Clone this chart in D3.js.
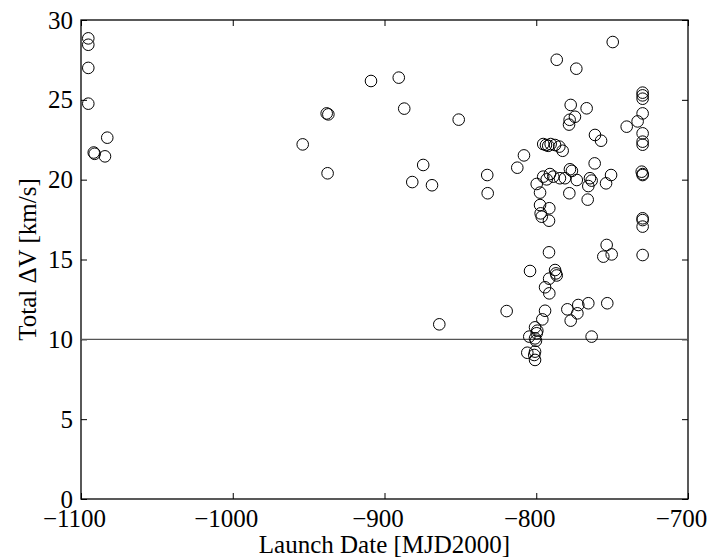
<!DOCTYPE html>
<html lang="en">
<head>
  <meta charset="utf-8">
  <title>Total dV vs launch date</title>
  <style>
    body { margin: 0; background: #fff; }
    #chart text { font-family: "Liberation Serif", "Times New Roman", serif; fill: #000; }
    .axis path { display: none; }
    .axis line { stroke: #000; stroke-width: 1; }
    .pt { fill: none; stroke: #000; stroke-width: 1; }
  </style>
</head>
<body>
  <div id="chart"></div>
  <script src="https://d3js.org/d3.v7.min.js"></script>
  <script>
    // launch dates [MJD2000] and matching total delta-v [km/s]
    var launchDate = [
      -1095.2, -1095.2, -1095.2, -1095.2, -1091.6, -1091.0, -1082.7, -1084.2,
      -953.9, -938.1, -937.0, -937.5, -908.9, -890.6, -887.0, -851.1, -874.5, -881.7, -868.7, -863.9,
      -832.3, -832.0, -819.5, -812.5, -808.1, -804.1,
      -799.7, -797.5, -797.5, -791.4, -797.1, -796.4, -791.6, -791.6, -787.6, -787.0, -786.5, -791.5,
      -794.2, -791.4, -794.2, -796.0, -800.8, -799.3, -799.7, -804.6, -800.8, -800.2, -805.9, -800.8, -801.3, -800.8,
      -795.4, -791.0, -793.1, -788.8, -784.4, -781.1, -777.8, -776.5, -773.3, -764.6, -763.5, -750.7,
      -778.2, -765.7, -754.0, -766.1, -761.5,
      -795.4, -793.6, -792.1, -790.5, -787.6, -784.8, -782.6,
      -749.6, -786.5, -773.6, -777.3, -766.8, -774.5, -778.0, -778.4, -761.3, -757.3, -740.4, -733.2,
      -729.9, -729.9, -729.9, -729.9, -729.9, -729.9, -729.9, -730.5, -729.9, -729.9, -729.9, -729.9, -729.9, -729.9,
      -753.6, -755.8, -750.3, -779.5, -772.3, -765.7, -753.2, -772.9, -777.3, -763.5
    ];
    var totalDV = [
      28.85, 28.45, 27.0, 24.76, 21.7, 21.62, 22.63, 21.46,
      22.21, 24.15, 24.09, 20.4, 26.18, 26.39, 24.45, 23.76, 20.92, 19.85, 19.65, 10.94,
      20.29, 19.15, 11.77, 20.75, 21.52, 14.28,
      19.73, 19.19, 18.41, 18.21, 17.89, 17.68, 17.43, 15.45, 14.34, 14.13, 14.0, 13.8,
      13.26, 12.88, 11.79, 11.25, 10.75, 10.54, 10.38, 10.17, 10.06, 9.91, 9.16, 9.23, 9.02, 8.71,
      20.19, 20.35, 20.02, 20.19, 20.09, 20.09, 20.65, 20.55, 19.98, 20.09, 19.94, 20.29,
      19.15, 19.6, 19.77, 18.75, 21.02,
      22.23, 22.17, 22.12, 22.23, 22.17, 22.07, 21.81,
      28.62, 27.51, 26.95, 24.68, 24.47, 23.94, 23.75, 23.45, 22.8, 22.44, 23.32, 23.65,
      25.45, 25.28, 25.07, 24.15, 22.9, 22.38, 22.19, 20.5, 20.35, 20.29, 17.58, 17.47, 17.06, 15.28,
      15.91, 15.18, 15.32, 11.88, 12.15, 12.26, 12.26, 11.63, 11.17, 10.17
    ];
    var xTicks = [-1100, -1000, -900, -800, -700];
    var yTicks = [0, 5, 10, 15, 20, 25, 30];
    var dvLimit = 10;

    var margin = { top: 20, right: 23, bottom: 60, left: 81 },
      width = 711 - margin.left - margin.right,
      height = 559 - margin.top - margin.bottom;

    var svg = d3.select("#chart")
      .append("svg")
      .attr("width", 711)
      .attr("height", 559)
      .append("g")
      .attr("transform", "translate(" + margin.left + "," + margin.top + ")");

    var x = d3.scaleLinear().domain([-1100, -700]).range([0, width]);
    var y = d3.scaleLinear().domain([0, 30]).range([height, 0]);
    var fmt = function (d) { return d < 0 ? "\u2212" + Math.abs(d) : String(d); };

    // labels sit a little left of their ticks, as in the original
    svg.append("g")
      .attr("class", "axis")
      .attr("transform", "translate(0," + height + ")")
      .call(d3.axisBottom(x).tickValues(xTicks).tickFormat(fmt).tickSizeInner(-6).tickSizeOuter(0).tickPadding(10))
      .selectAll("text")
      .attr("dx", -7)
      .style("font-size", "25px");

    svg.append("g")
      .attr("class", "axis")
      .call(d3.axisLeft(y).tickValues(yTicks).tickSizeInner(-6).tickSizeOuter(0).tickPadding(8))
      .selectAll("text").style("font-size", "25px");

    svg.append("g")
      .attr("class", "axis")
      .call(d3.axisTop(x).tickValues(xTicks).tickFormat("").tickSizeInner(-6).tickSizeOuter(0));

    svg.append("g")
      .attr("class", "axis")
      .attr("transform", "translate(" + width + ",0)")
      .call(d3.axisRight(y).tickValues(yTicks).tickFormat("").tickSizeInner(-6).tickSizeOuter(0));

    // plot box
    svg.append("rect")
      .attr("width", width)
      .attr("height", height)
      .attr("fill", "none")
      .attr("stroke", "#000")
      .attr("stroke-width", 1.3);

    // delta-v limit line
    svg.append("line")
      .attr("x1", 0)
      .attr("x2", width)
      .attr("y1", y(dvLimit))
      .attr("y2", y(dvLimit))
      .attr("stroke", "#555")
      .attr("stroke-width", 1.2);

    svg.selectAll("circle.pt")
      .data(launchDate)
      .enter()
      .append("circle")
      .attr("class", "pt")
      .attr("cx", function (d) { return x(d); })
      .attr("cy", function (d, i) { return y(totalDV[i]); })
      .attr("r", 5.8);

    svg.append("text")
      .attr("x", width / 2)
      .attr("y", height + 54)
      .attr("text-anchor", "middle")
      .style("font-size", "25px")
      .text("Launch Date [MJD2000]");

    svg.append("text")
      .attr("transform", "translate(-45," + (height / 2) + ") rotate(-90)")
      .attr("text-anchor", "middle")
      .style("font-size", "25px")
      .text("Total \u0394V [km/s]");
  </script>
</body>
</html>
